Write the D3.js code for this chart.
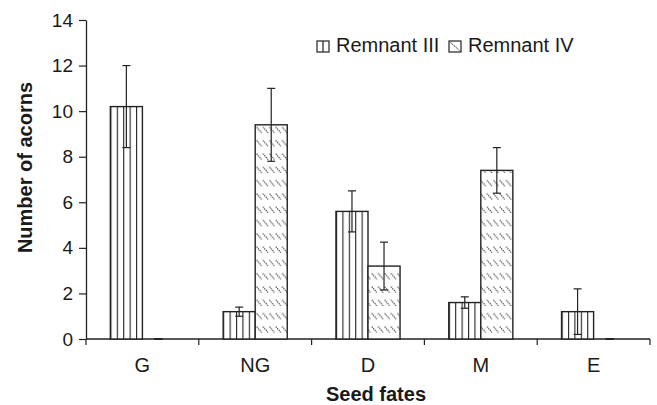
<!DOCTYPE html>
<html>
<head>
    <meta charset="utf-8">
    <title></title>
    <script src="https://d3js.org/d3.v7.min.js"></script>
    <style>
        html, body { margin: 0; padding: 0; background: white; }
        text { font-family: "Liberation Sans", Arial, Helvetica, sans-serif; fill: #1a1a1a; }
    </style>
</head>
<body>
    <div id="chart"></div>
    <script>
        // Chart data
        const categories = ["G", "NG", "D", "M", "E"];
        const seriesNames = ["Remnant III", "Remnant IV"];
        const remnantIII = [10.2, 1.2, 5.6, 1.6, 1.2];
        const remnantIIIErr = [1.8, 0.2, 0.9, 0.25, 1.0];
        const remnantIV = [0, 9.4, 3.2, 7.4, 0];
        const remnantIVErr = [0, 1.6, 1.05, 1.0, 0];
        const yTicks = [0, 2, 4, 6, 8, 10, 12, 14];

        const W = 657, H = 405;
        const margins = { top: 20, right: 7, bottom: 66, left: 86 };
        const ink = "#222";

        const svg = d3.select("#chart").append("svg")
            .attr("width", W)
            .attr("height", H);

        // Fill patterns
        const defs = svg.append("defs");
        const vert = defs.append("pattern")
            .attr("id", "pat-iii")
            .attr("patternUnits", "objectBoundingBox")
            .attr("width", 0.2)
            .attr("height", 1);
        vert.append("rect").attr("width", 20).attr("height", 400).attr("fill", "white");
        vert.append("line")
            .attr("x1", 0.5).attr("x2", 0.5).attr("y1", 0).attr("y2", 400)
            .attr("stroke", ink).attr("stroke-width", 1.2);

        const diag = defs.append("pattern")
            .attr("id", "pat-iv")
            .attr("patternUnits", "userSpaceOnUse")
            .attr("x", 0).attr("y", 326)
            .attr("width", 6.4)
            .attr("height", 13.3);
        diag.append("rect").attr("width", 6.4).attr("height", 13.3).attr("fill", "white");
        diag.append("line")
            .attr("x1", 0.6).attr("y1", 0.6).attr("x2", 5.6).attr("y2", 6.4)
            .attr("stroke", ink).attr("stroke-width", 1)
            .attr("stroke-dasharray", "1.3 0.9");

        // Scales
        const x = d3.scaleBand()
            .domain(categories)
            .range([margins.left, W - margins.right])
            .padding(0);

        const xSub = d3.scaleBand()
            .domain(seriesNames)
            .range([0, x.bandwidth()])
            .paddingInner(0)
            .paddingOuter(0.76);

        const y = d3.scaleLinear()
            .domain([0, 14])
            .range([H - margins.bottom, margins.top]);

        // Y axis
        const yAxis = svg.append("g")
            .attr("transform", `translate(${margins.left},0)`)
            .call(d3.axisLeft(y).tickValues(yTicks).tickSize(7).tickPadding(6).tickSizeOuter(0));
        yAxis.select(".domain").attr("stroke", ink).attr("stroke-width", 1.3);
        yAxis.selectAll(".tick line").attr("stroke", ink).attr("stroke-width", 1.2);
        yAxis.selectAll(".tick text")
            .style("font-family", "'Liberation Sans', Arial, sans-serif")
            .style("font-size", "19px")
            .attr("fill", "#1a1a1a");

        // X axis
        const xAxis = svg.append("g")
            .attr("transform", `translate(0,${y(0)})`)
            .call(d3.axisBottom(x).tickSize(0).tickPadding(19));
        xAxis.select(".domain").remove();
        xAxis.selectAll(".tick text")
            .style("font-family", "'Liberation Sans', Arial, sans-serif")
            .style("font-size", "20px")
            .attr("fill", "#1a1a1a");
        xAxis.append("line")
            .attr("x1", x.range()[0]).attr("x2", x.range()[1])
            .attr("stroke", ink).attr("stroke-width", 1.3);
        const bounds = categories.map((c) => x(c)).concat([x.range()[1]]);
        xAxis.selectAll(".bound")
            .data(bounds)
            .enter()
            .append("line")
            .attr("x1", (d) => d).attr("x2", (d) => d)
            .attr("y1", 0).attr("y2", 6)
            .attr("stroke", ink).attr("stroke-width", 1.2);

        // Bars
        const rows = [];
        categories.forEach((c, i) => {
            rows.push({ cat: c, series: seriesNames[0], value: remnantIII[i], err: remnantIIIErr[i], fill: "url(#pat-iii)" });
            rows.push({ cat: c, series: seriesNames[1], value: remnantIV[i], err: remnantIVErr[i], fill: "url(#pat-iv)" });
        });

        const barG = svg.append("g");
        barG.selectAll("rect.bar")
            .data(rows.filter((d) => d.value > 0))
            .enter()
            .append("rect")
            .attr("class", "bar")
            .attr("x", (d) => x(d.cat) + xSub(d.series))
            .attr("y", (d) => y(d.value))
            .attr("width", xSub.bandwidth())
            .attr("height", (d) => y(0) - y(d.value))
            .attr("fill", (d) => d.fill)
            .attr("stroke", ink)
            .attr("stroke-width", 1.4);

        // Error bars
        const capW = 4;
        const errG = svg.append("g").attr("stroke", ink).attr("stroke-width", 1.2);
        rows.forEach((d) => {
            const cx = x(d.cat) + xSub(d.series) + xSub.bandwidth() / 2;
            const top = y(d.value + d.err);
            const bot = y(Math.max(0, d.value - d.err));
            errG.append("line").attr("x1", cx).attr("x2", cx).attr("y1", top).attr("y2", bot);
            errG.append("line").attr("x1", cx - capW).attr("x2", cx + capW).attr("y1", top).attr("y2", top);
            errG.append("line").attr("x1", cx - capW).attr("x2", cx + capW).attr("y1", bot).attr("y2", bot)
                .attr("stroke-width", d.value === 0 ? 2 : 1.2);
        });

        // Axis titles
        svg.append("text")
            .attr("x", (x.range()[0] + x.range()[1]) / 2 + 8)
            .attr("y", 401)
            .attr("text-anchor", "middle")
            .style("font-size", "20px")
            .style("font-weight", "bold")
            .text("Seed fates");

        svg.append("text")
            .attr("transform", `translate(32,${(y(0) + y(14)) / 2 - 12}) rotate(-90)`)
            .attr("text-anchor", "middle")
            .style("font-size", "20px")
            .style("font-weight", "bold")
            .text("Number of acorns");

        // Legend
        const legend = svg.append("g").attr("transform", "translate(317,41)");
        const legendX = [0, 132];
        seriesNames.forEach((name, i) => {
            const g = legend.append("g").attr("transform", `translate(${legendX[i]},0)`);
            g.append("rect")
                .attr("width", 12).attr("height", 11)
                .attr("fill", "white").attr("stroke", ink).attr("stroke-width", 1.2);
            if (i === 0) {
                g.append("line").attr("x1", 6).attr("x2", 6).attr("y1", 0).attr("y2", 11)
                    .attr("stroke", ink).attr("stroke-width", 1.2);
            } else {
                g.append("line").attr("x1", 1.5).attr("y1", 1.5).attr("x2", 10.5).attr("y2", 9.5)
                    .attr("stroke", ink).attr("stroke-width", 1).attr("stroke-dasharray", "1.5 0.8");
            }
            g.append("text")
                .attr("x", 19)
                .attr("y", 11)
                .style("font-size", "20px")
                .text(name);
        });
    </script>
</body>
</html>
